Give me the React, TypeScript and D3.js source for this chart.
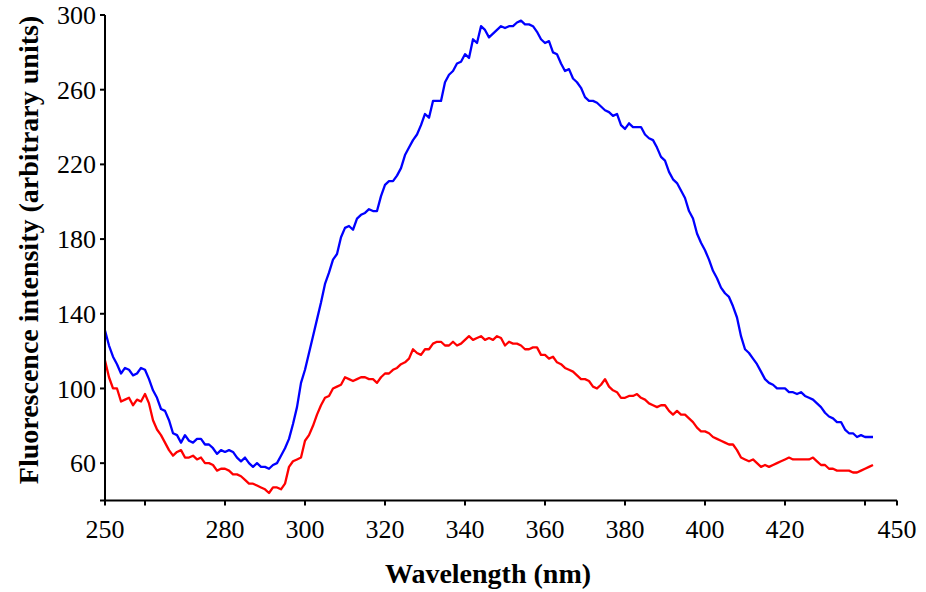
import React from "react";
import * as d3 from "d3";

const startWavelength = 250;
const blueValues = [
  131, 123, 117, 113, 108, 111, 110, 107, 108, 111,
  110, 105, 99, 95, 89, 88, 83, 76, 75, 71,
  75, 72, 71, 73, 73, 70, 70, 68, 65, 67,
  66, 67, 66, 63, 61, 63, 60, 58, 60, 58,
  58, 57, 59, 60, 64, 68, 73, 81, 90, 103,
  110, 119, 128, 137, 146, 156, 162, 169, 172, 181,
  186, 187, 185, 191, 193, 194, 196, 195, 195, 203,
  209, 211, 211, 214, 218, 225, 229, 233, 236, 241,
  247, 245, 254, 254, 254, 264, 268, 270, 274, 275,
  279, 277, 287, 285, 294, 292, 288, 290, 292, 294,
  293, 294, 294, 296, 297, 295, 295, 294, 291, 287,
  285, 286, 280, 279, 274, 270, 271, 266, 264, 261,
  256, 254, 254, 253, 251, 249, 248, 246, 247, 241,
  239, 242, 240, 240, 240, 236, 234, 233, 229, 224,
  222, 216, 212, 210, 206, 202, 195, 191, 183, 178,
  174, 169, 163, 159, 154, 151, 149, 144, 138, 128,
  121, 119, 116, 113, 109, 105, 103, 102, 100, 100,
  100, 98, 98, 97, 98, 96, 95, 94, 92, 90,
  87, 85, 84, 82, 82, 78, 76, 76, 74, 75,
  74, 74, 74,
];
const redValues = [
  115, 106, 100, 100, 93, 94, 95, 91, 94, 93,
  97, 92, 83, 78, 75, 71, 67, 64, 66, 67,
  63, 63, 64, 62, 63, 60, 60, 59, 56, 57,
  57, 56, 54, 54, 53, 51, 49, 49, 48, 47,
  46, 44, 47, 47, 46, 49, 58, 61, 62, 63,
  72, 75, 80, 86, 91, 95, 96, 100, 101, 102,
  106, 105, 104, 105, 106, 106, 105, 105, 103, 106,
  108, 108, 110, 111, 113, 114, 116, 121, 119, 118,
  121, 121, 124, 125, 125, 123, 123, 125, 123, 124,
  126, 128, 126, 127, 128, 126, 127, 126, 128, 127,
  123, 125, 124, 124, 123, 121, 121, 122, 122, 118,
  118, 116, 117, 114, 113, 111, 110, 109, 107, 105,
  105, 104, 101, 100, 102, 105, 101, 99, 98, 95,
  95, 96, 96, 97, 95, 94, 92, 91, 90, 91,
  91, 88, 86, 88, 86, 86, 84, 82, 79, 77,
  77, 76, 74, 73, 72, 71, 70, 70, 67, 63,
  62, 61, 62, 60, 58, 59, 58, 59, 60, 61,
  62, 63, 62, 62, 62, 62, 62, 63, 61, 59,
  59, 57, 57, 56, 56, 56, 56, 55, 55, 56,
  57, 58, 59,
];
const xTickValues = [250, 260, 280, 300, 320, 340, 360, 380, 400, 420, 440, 448];
const xTickLabels = ["250", "", "280", "300", "320", "340", "360", "380", "400", "420", "", "450"];
const yTickValues = [40, 60, 100, 140, 180, 220, 260, 300];
const yTickLabels = ["", "60", "100", "140", "180", "220", "260", "300"];
const xTitle = "Wavelength (nm)";
const yTitle = "Fluorescence intensity (arbitrary units)";

export default function App() {
  const W = 926;
  const H = 592;
  const x = d3.scaleLinear().domain([250, 448]).range([105, 897]);
  const y = d3.scaleLinear().domain([40, 300]).range([500.5, 15]);
  const line = d3
    .line<number>()
    .x((_, i) => x(startWavelength + i))
    .y((d) => y(d))
    .curve(d3.curveLinear);
  const font = "'Liberation Serif', 'Times New Roman', serif";
  return (
    <svg
      width={W}
      height={H}
      viewBox={`0 0 ${W} ${H}`}
      style={{ position: "absolute", left: 0, top: 0, background: "#fff" }}
    >
      <rect width={W} height={H} fill="#fff" />
      <path d={line(blueValues) || ""} fill="none" stroke="#0000ff" strokeWidth={2.3} strokeLinejoin="round" />
      <path d={line(redValues) || ""} fill="none" stroke="#ff0000" strokeWidth={2.3} strokeLinejoin="round" />
      <line x1={x(250)} x2={x(448)} y1={y(40)} y2={y(40)} stroke="#000" strokeWidth={2} />
      <line x1={x(250)} x2={x(250)} y1={y(40)} y2={y(300)} stroke="#000" strokeWidth={2} />
      {xTickValues.map((v, i) => (
        <g key={"xt" + i}>
          <line x1={x(v)} x2={x(v)} y1={y(40)} y2={y(40) + 5} stroke="#000" strokeWidth={2} />
          <text x={x(v)} y={538} textAnchor="middle" fontFamily={font} fontSize={26} fill="#000">
            {xTickLabels[i]}
          </text>
        </g>
      ))}
      {yTickValues.map((v, i) => (
        <g key={"yt" + i}>
          <line x1={x(250) - 5} x2={x(250)} y1={y(v)} y2={y(v)} stroke="#000" strokeWidth={2} />
          <text x={96} y={y(v)} dy="0.35em" textAnchor="end" fontFamily={font} fontSize={26} fill="#000">
            {yTickLabels[i]}
          </text>
        </g>
      ))}
      <text x={488} y={583} textAnchor="middle" fontFamily={font} fontSize={28} fontWeight="bold" fill="#000">
        {xTitle}
      </text>
      <text
        transform={`translate(38, 250) rotate(-90)`}
        textAnchor="middle"
        fontFamily={font}
        fontSize={28}
        fontWeight="bold"
        fill="#000"
      >
        {yTitle}
      </text>
    </svg>
  );
}
